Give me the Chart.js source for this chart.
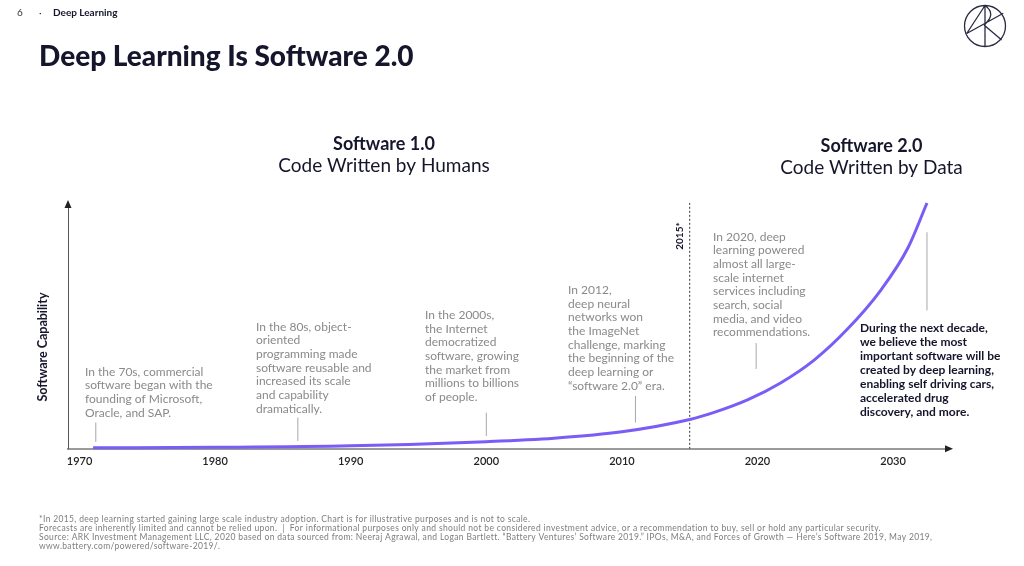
<!DOCTYPE html>
<html>
<head>
<meta charset="utf-8">
<script src="https://cdn.jsdelivr.net/npm/chart.js@4.4.1/dist/chart.umd.min.js"></script>
<style>
  html, body { margin: 0; padding: 0; background: #fff; }
  #wrap { position: relative; width: 1024px; height: 566px; }
</style>
</head>
<body>
<div id="wrap"><canvas id="slideChart"></canvas></div>
<script>
// values (y is "software capability", 0..100, not to scale)
const tickYears = [1970, 1980, 1990, 2000, 2010, 2020, 2030];
const curveYears = [1971, 1980, 1990, 2000, 2005, 2010, 2015, 2016.8, 2019.3, 2021.7, 2024.2, 2026.6, 2029.1, 2031.1, 2032.5];
const curveValues = [0.4, 0.6, 1.2, 2.9, 4.3, 6.9, 11.9, 14.8, 20.0, 26.8, 36.2, 48.5, 64.6, 81.8, 100];
const dividerYear = 2015;
const markerYears = [1971.2, 1986.1, 2000, 2011, 2019.9, 2032.5];
const markerLow = [2.8, 3.2, 5.2, 10.7, 32.5, 56.3];
const markerHigh = [10.7, 12.7, 14.7, 21.5, 43.0, 88.1];

const notes = [
  ["In the 70s, commercial", "software began with the", "founding of Microsoft,", "Oracle, and SAP."],
  ["In the 80s, object-", "oriented", "programming made", "software reusable and", "increased its scale", "and capability", "dramatically."],
  ["In the 2000s,", "the Internet", "democratized", "software, growing", "the market from", "millions to billions", "of people."],
  ["In 2012,", "deep neural", "networks won", "the ImageNet", "challenge, marking", "the beginning of the", "deep learning or", "\u201csoftware 2.0\u201d era."],
  ["In 2020, deep", "learning powered", "almost all large-", "scale internet", "services including", "search, social", "media, and video", "recommendations."],
];
const outlook = ["During the next decade,", "we believe the most", "important software will be", "created by deep learning,", "enabling self driving cars,", "accelerated drug", "discovery, and more."];
const footnotes = [
  "*In 2015, deep learning started gaining large scale industry adoption. Chart is for illustrative purposes and is not to scale.",
  "Forecasts are inherently limited and cannot be relied upon.  |  For informational purposes only and should not be considered investment advice, or a recommendation to buy, sell or hold any particular security.",
  "Source: ARK Investment Management LLC, 2020 based on data sourced from: Neeraj Agrawal, and Logan Bartlett. \u201cBattery Ventures\u2019 Software 2019.\u201d IPOs, M&A, and Forces of Growth \u2014 Here\u2019s Software 2019, May 2019,",
  "www.battery.com/powered/software-2019/.",
];

const FONT = "Lato, 'Noto Sans', sans-serif";
const notePos = [[85, 371.7], [256, 326.7], [425, 315], [568, 290], [713, 236.7]];

function textLines(ctx, lines, x, y, lh) {
  lines.forEach((l, i) => ctx.fillText(l, x, y + i * lh));
}

const slideText = {
  id: "slideText",
  afterDraw(chart) {
    const { ctx, chartArea: a, scales: { x } } = chart;
    ctx.save();
    ctx.textBaseline = "middle";

    // header
    ctx.fillStyle = "#333";
    ctx.font = "10px " + FONT;
    ctx.fillText("6", 17, 13);
    ctx.fillText("\u00b7", 39, 13);
    ctx.fillStyle = "#15152b";
    ctx.font = "bold 10px " + FONT;
    ctx.fillText("Deep Learning", 53, 13);

    ctx.font = "900 28px " + FONT;
    ctx.textBaseline = "alphabetic";
    ctx.fillText("Deep Learning Is Software 2.0", 39, 66);
    ctx.textBaseline = "middle";

    // era headings
    ctx.textAlign = "center";
    ctx.font = "bold 18px " + FONT;
    ctx.fillText("Software 1.0", 384, 144.5);
    ctx.fillText("Software 2.0", 871.5, 146.5);
    ctx.font = "19px " + FONT;
    ctx.fillText("Code Written by Humans", 384, 166);
    ctx.fillText("Code Written by Data", 871.5, 168);

    // axis title
    ctx.save();
    ctx.translate(43, 347);
    ctx.rotate(-Math.PI / 2);
    ctx.font = "bold 12.5px " + FONT;
    ctx.fillText("Software Capability", 0, 0);
    ctx.restore();

    // 2015* label
    ctx.save();
    ctx.translate(x.getPixelForValue(dividerYear) - 10, a.top + 33);
    ctx.rotate(-Math.PI / 2);
    ctx.font = "bold 10px " + FONT;
    ctx.fillText("2015*", 0, 0);
    ctx.restore();

    // arrows
    ctx.fillStyle = "#222";
    ctx.beginPath();
    ctx.moveTo(a.left, a.top - 3);
    ctx.lineTo(a.left - 3.5, a.top + 5);
    ctx.lineTo(a.left + 3.5, a.top + 5);
    ctx.fill();
    ctx.beginPath();
    ctx.moveTo(a.right + 5, a.bottom);
    ctx.lineTo(a.right - 3, a.bottom - 3.5);
    ctx.lineTo(a.right - 3, a.bottom + 3.5);
    ctx.fill();

    // annotations
    ctx.textAlign = "left";
    ctx.fillStyle = "#8a8a8a";
    ctx.font = "12px " + FONT;
    notes.forEach((n, i) => textLines(ctx, n, notePos[i][0], notePos[i][1], 13.7));
    ctx.fillStyle = "#15152b";
    ctx.font = "bold 12px " + FONT;
    textLines(ctx, outlook, 860, 328.5, 13.9);

    // footnotes
    ctx.fillStyle = "#7d7d7d";
    ctx.font = "8.5px " + FONT;
    ctx.letterSpacing = "0.35px";
    textLines(ctx, footnotes, 39, 519, 9);
    ctx.letterSpacing = "0px";

    // logo
    ctx.strokeStyle = "#2a2a40";
    ctx.lineWidth = 1.3;
    ctx.beginPath();
    ctx.arc(985, 26, 20.5, 0, Math.PI * 2);
    ctx.moveTo(985, 5.5); ctx.lineTo(985, 46.5);
    ctx.moveTo(985, 5.5); ctx.lineTo(966.7, 33.5);
    ctx.moveTo(966.7, 33.5); ctx.lineTo(1003.3, 13.3);
    ctx.moveTo(985, 5.5); ctx.quadraticCurveTo(997, 14, 984, 25);
    ctx.moveTo(984, 25); ctx.lineTo(1001.7, 40);
    ctx.stroke();

    ctx.restore();
  },
};

const datasets = [
  {
    data: curveYears.map((yr, i) => ({ x: yr, y: curveValues[i] })),
    borderColor: "#7a5cf6",
    borderWidth: 3,
    cubicInterpolationMode: "monotone",
    pointRadius: 0,
    clip: false,
  },
  {
    data: [{ x: dividerYear, y: 0 }, { x: dividerYear, y: 100 }],
    borderColor: "#333",
    borderWidth: 1,
    borderDash: [2, 2],
    pointRadius: 0,
  },
];
markerYears.forEach((yr, i) => {
  datasets.push({
    data: [{ x: yr, y: markerLow[i] }, { x: yr, y: markerHigh[i] }],
    borderColor: "#a8a8a8",
    borderWidth: 1,
    pointRadius: 0,
  });
});

const chart = new Chart(document.getElementById("slideChart"), {
  type: "line",
  data: { datasets: datasets },
  options: {
    responsive: true,
    maintainAspectRatio: false,
    animation: false,
    layout: { padding: { left: 68, right: 76, top: 203, bottom: 92 } },
    plugins: { legend: { display: false }, tooltip: { enabled: false } },
    scales: {
      x: {
        type: "linear",
        min: 1969.15,
        max: 2034.05,
        afterBuildTicks: (s) => { s.ticks = tickYears.map((v) => ({ value: v })); },
        ticks: {
          padding: 6,
          color: "#222",
          font: { family: FONT, size: 11, weight: "600" },
          callback: (v) => String(v),
        },
        grid: { display: false, drawTicks: false },
        border: { display: true, color: "#9a9a9a", width: 2 },
      },
      y: {
        min: 0,
        max: 100,
        ticks: { display: false },
        grid: { display: false, drawTicks: false },
        border: { display: true, color: "#555", width: 1 },
      },
    },
  },
  plugins: [slideText],
});
</script>
</body>
</html>
